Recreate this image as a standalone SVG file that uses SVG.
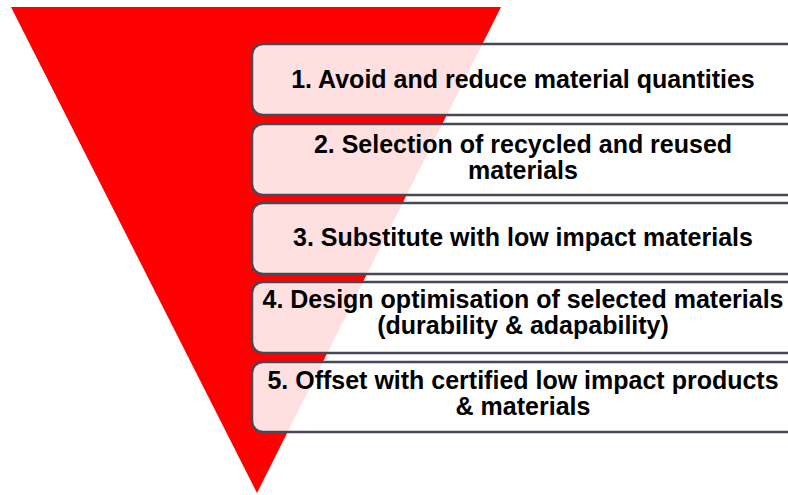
<svg xmlns="http://www.w3.org/2000/svg" width="788" height="495" viewBox="0 0 788 495">
<style>
.box{fill:#ffffff;fill-opacity:0.88;stroke:#474758;stroke-width:2.5}
.t{font-family:"Liberation Sans",Arial,sans-serif;font-weight:bold;font-size:25px;fill:#000;text-anchor:middle}
</style>
<rect width="788" height="495" fill="#ffffff"/>
<polygon id="triangle" points="11,7 501,7 257,493" fill="#ff0000"/>
<g id="step1"><rect class="box" x="252" y="44" width="560" height="71" rx="11"/><text class="t" x="523" y="88">1. Avoid and reduce material quantities</text></g>
<g id="step2"><rect class="box" x="252" y="124" width="560" height="71" rx="11"/><text class="t" x="523" y="153">2. Selection of recycled and reused</text><text class="t" x="523" y="179">materials</text></g>
<g id="step3"><rect class="box" x="252" y="203" width="560" height="71" rx="11"/><text class="t" x="523" y="246">3. Substitute with low impact materials</text></g>
<g id="step4"><rect class="box" x="252" y="282" width="560" height="71" rx="11"/><text class="t" x="523" y="308">4. Design optimisation of selected materials</text><text class="t" x="523" y="334">(durability &amp; adapability)</text></g>
<g id="step5"><rect class="box" x="252" y="362" width="560" height="70" rx="11"/><text class="t" x="523" y="389">5. Offset with certified low impact products</text><text class="t" x="523" y="415">&amp; materials</text></g>
<g id="connectors"/>
</svg>
